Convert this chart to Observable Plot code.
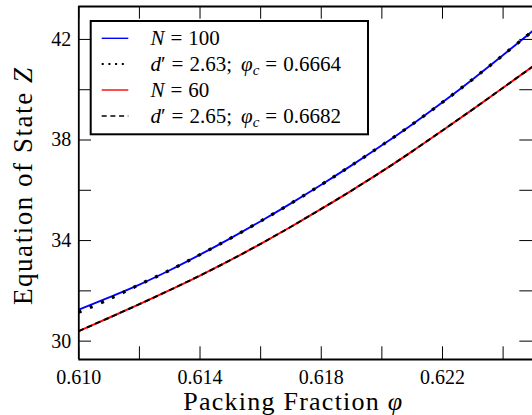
<!DOCTYPE html>
<html><head><meta charset="utf-8">
<script src="https://cdn.jsdelivr.net/npm/d3@7"></script>
<script src="https://cdn.jsdelivr.net/npm/@observablehq/plot@0.6"></script>
<style>
html,body{margin:0;padding:0;background:#fff;overflow:hidden}
svg{display:block}
#chart svg text{font-family:"Liberation Serif",serif;}
</style></head><body><div id="chart"></div>
<script>
// ---- data ----
const phi     = [0.610,0.611,0.612,0.613,0.614,0.615,0.616,0.617,0.618,0.619,0.620,0.621,0.622,0.623,0.624,0.625];
const zN100   = [31.25,31.74,32.25,32.82,33.44,34.09,34.77,35.48,36.22,36.99,37.79,38.62,39.50,40.42,41.38,42.36];
const zFit100 = [31.15,31.67,32.25,32.82,33.44,34.09,34.77,35.48,36.22,36.99,37.79,38.62,39.50,40.42,41.38,42.36];
const zN60    = [30.40,30.93,31.47,32.03,32.61,33.22,33.87,34.55,35.26,35.99,36.75,37.55,38.38,39.22,40.08,40.94];
const zFit60  = [30.40,30.93,31.47,32.03,32.61,33.22,33.87,34.55,35.26,35.99,36.75,37.55,38.38,39.22,40.08,40.94];
const xTicks      = [0.610,0.612,0.614,0.616,0.618,0.620,0.622,0.624];
const xTickLabels = [0.610,0.614,0.618,0.622];
const yTicks      = [30,32,34,36,38,40,42];
const yTickLabels = [30,34,38,42];
const xDomain = [0.610, 0.62497];
const yDomain = [29.27, 43.31];
const xTitle = "Packing Fraction ";
const xTitleVar = "\u03C6";
const yTitle = "Equation of State ";
const yTitleVar = "Z";
const legendN100 = "100";
const legendN60 = "60";
const legendD100 = ["2.63;", "0.6664"];
const legendD60  = ["2.65;", "0.6682"];

// ---- build tables ----
const toRows = (z) => phi.map((p, i) => ({phi: p, z: z[i]}));
const rN100 = toRows(zN100), rFit100 = toRows(zFit100), rN60 = toRows(zN60), rFit60 = toRows(zFit60);

const W = 532, H = 415, mL = 78.3, mR = 0, mT = 6, mB = 56;
const FH = H - mT - mB, FW = W - mL - mR;
const TL = 12.7;
const FONT = "'Liberation Serif', serif";

const chart = Plot.plot({
  width: W, height: H,
  marginLeft: mL, marginRight: mR, marginTop: mT, marginBottom: mB,
  style: {fontFamily: FONT, fontSize: "20px", color: "black", background: "white"},
  x: {domain: xDomain, ticks: xTickLabels, tickSize: 0, tickPadding: 10, tickFormat: d3.format(".3f"), label: null},
  y: {domain: yDomain, ticks: yTickLabels, tickSize: 0, tickPadding: 7.6, label: null},
  marks: [
    Plot.line(rN100, {x: "phi", y: "z", stroke: "#0000ff", strokeWidth: 1.9, curve: "catmull-rom", clip: true}),
    Plot.line(rFit100, {x: "phi", y: "z", stroke: "black", strokeWidth: 3.2, strokeDasharray: "3,9", strokeLinecap: "butt", curve: "catmull-rom", clip: true}),
    Plot.line(rN60, {x: "phi", y: "z", stroke: "#ff0000", strokeWidth: 2, curve: "catmull-rom", clip: true}),
    Plot.line(rFit60, {x: "phi", y: "z", stroke: "black", strokeWidth: 2, strokeDasharray: "5.5,3.5", strokeLinecap: "butt", curve: "catmull-rom", clip: true}),
    Plot.tickX(xTicks, {x: d => d, insetTop: FH - TL, stroke: "black", strokeWidth: 1}),
    Plot.tickX(xTicks, {x: d => d, insetBottom: FH - TL, stroke: "black", strokeWidth: 1}),
    Plot.tickY(yTicks, {y: d => d, insetRight: FW - TL, stroke: "black", strokeWidth: 1}),
    Plot.tickY(yTicks, {y: d => d, insetLeft: FW - TL, stroke: "black", strokeWidth: 1}),
    Plot.ruleX([xDomain[0]], {stroke: "black", strokeWidth: 1.8}),
    Plot.ruleY([yDomain[0]], {stroke: "black", strokeWidth: 1.8}),
    Plot.ruleY([yDomain[1]], {stroke: "black", strokeWidth: 1.8})
  ]
});
document.getElementById("chart").appendChild(chart);
const svgEl = chart.tagName.toLowerCase() === "svg" ? chart : chart.querySelector("svg");
svgEl.setAttribute("font-family", FONT);
svgEl.setAttribute("font-size", "20");
const svg = d3.select(svgEl);

// axis titles
const xt = svg.append("text").attr("x", 292.7).attr("y", 410).attr("text-anchor", "middle")
  .attr("font-family", FONT).attr("font-size", 26).attr("textLength", 219).attr("lengthAdjust", "spacing").attr("fill", "black");
xt.append("tspan").text(xTitle);
xt.append("tspan").attr("font-style", "italic").text(xTitleVar);

const yt = svg.append("text").attr("transform", "translate(32,186.5) rotate(-90)").attr("text-anchor", "middle")
  .attr("font-family", FONT).attr("font-size", 27).attr("textLength", 237).attr("lengthAdjust", "spacing").attr("fill", "black");
yt.append("tspan").text(yTitle);
yt.append("tspan").attr("font-style", "italic").text(yTitleVar);

// legend
const lg = svg.append("g").attr("text-anchor", "start");
lg.append("rect").attr("x", 90.7).attr("y", 21).attr("width", 277.3).attr("height", 113.3)
  .attr("fill", "white").attr("stroke", "black").attr("stroke-width", 2);
const rowsY = [38.3, 64, 90, 116];
const samples = [
  {stroke: "#0000ff", w: 1.4, dash: null},
  {stroke: "black", w: 2, dash: "2,4.7"},
  {stroke: "#ff0000", w: 1.4, dash: null},
  {stroke: "black", w: 1.4, dash: "5,3.7"}
];
samples.forEach((s, i) => {
  const l = lg.append("line").attr("x1", 101.7).attr("x2", 128.3).attr("y1", rowsY[i]).attr("y2", rowsY[i])
    .attr("stroke", s.stroke).attr("stroke-width", s.w);
  if (s.dash) l.attr("stroke-dasharray", s.dash);
});
const SP = 6;
function newText(y) {
  return lg.append("text").attr("x", 150.5).attr("y", y + 7).attr("text-anchor", "start")
    .attr("font-family", FONT).attr("font-size", 21).attr("fill", "black");
}
function nRow(y, n) {
  const t = newText(y);
  t.append("tspan").attr("font-style", "italic").text("N");
  t.append("tspan").attr("dx", SP).text("=");
  t.append("tspan").attr("dx", SP).text(n);
}
function dRow(y, vals) {
  const t = newText(y);
  t.append("tspan").attr("font-style", "italic").text("d");
  t.append("tspan").text("\u2032");
  t.append("tspan").attr("dx", SP).text("=");
  t.append("tspan").attr("dx", SP).text(vals[0]);
  t.append("tspan").attr("dx", 9).attr("font-style", "italic").text("\u03C6");
  t.append("tspan").attr("font-style", "italic").attr("font-size", 15).attr("dy", 4).text("c");
  t.append("tspan").attr("dx", SP).attr("dy", -4).text("=");
  t.append("tspan").attr("dx", SP).text(vals[1]);
}
nRow(rowsY[0], legendN100);
dRow(rowsY[1], legendD100);
nRow(rowsY[2], legendN60);
dRow(rowsY[3], legendD60);
</script>
</body></html>
